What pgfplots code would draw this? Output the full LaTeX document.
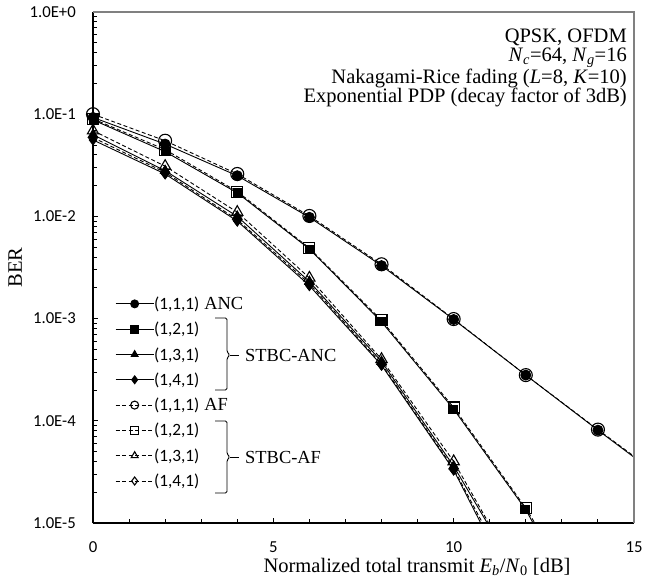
\documentclass[border=0pt]{standalone}
\usepackage{fontspec}
\setmainfont{Liberation Serif}
\newfontfamily\carlito{Carlito}
\usepackage{pgfplots}
\pgfplotsset{compat=1.18}

\newcommand\sfsize{\carlito\fontsize{17.3}{19}\selectfont}
\newcommand\ticksize{\carlito\fontsize{16.8}{18}\selectfont}
\newcommand\rmsize{\rmfamily\fontsize{18.5}{18.7}\selectfont}
\newcommand\rmbig{\rmfamily\fontsize{20.6}{18.7}\selectfont}
\newcommand\sub[1]{\textsubscript{\textit{#1}}}

\pgfplotsset{
  anc/.style={black, line width=0.9bp, mark options={solid, fill=black}},
  af/.style={black, line width=0.9bp, dash pattern=on 4bp off 2.5bp,
    mark options={solid, line width=1.1bp}},
}

\begin{document}
\begin{tikzpicture}
\begin{axis}[
  scale only axis, width=541bp, height=511bp,
  at={(0,0)}, anchor=south west,
  ymode=log, xmin=0, xmax=15, ymin=1e-5, ymax=1,
  axis lines=left, axis line style={-, line width=1.8bp, black},
  clip mode=individual,
  xtick={0,5,10,15}, xticklabels={0,5,10,15}, minor x tick num=4,
  ytick={1e-5,1e-4,1e-3,1e-2,1e-1,1},
  yticklabels={1.0E-5,1.0E-4,1.0E-3,1.0E-2,1.0E-1,1.0E+0},
  tick align=inside, major tick length=5bp, minor tick length=4bp,
  tick style={black, line width=0.9bp},
  yticklabel style={font=\ticksize, anchor=east, inner sep=0pt, xshift=-17bp},
  xticklabel style={font=\ticksize, anchor=center, inner sep=0pt, yshift=-24bp},
  xlabel={Normalized total transmit \textit{E}\sub{b}/\textit{N}\textsubscript{0} [dB]},
  ylabel={BER},
  label style={font=\rmbig},
  xlabel style={at={(axis description cs:0.599,-0.086)}, anchor=center},
  ylabel style={at={(axis description cs:-0.144,0.5)}, anchor=center},
  legend style={at={(axis description cs:0.0407,0.443)}, anchor=north west,
    draw=none, fill=none, font=\sfsize, inner sep=0pt, row sep=11.2bp,
    nodes={inner sep=0pt},
    /tikz/every even column/.append style={column sep=6bp}},
  legend cell align=left,
  legend image code/.code={\draw[#1, mark indices={2}, mark size=4bp]
    plot coordinates {(0bp,0bp) (19bp,0bp) (38bp,0bp)};},
]
% STBC-ANC / ANC
\addplot[anc, mark=*, mark size=5bp, mark indices={1,2,3,4,5,6,7,8}] coordinates {
(0,0.093)(2,0.051)(4,0.025)(6,0.0098)(8,0.0033)(10,0.00098)(12,0.00028)(14,0.000081)(15,0.000044)};
\addlegendentry{(1,1,1)\hspace{5bp}{\rmsize ANC}}
\addplot[anc, mark=square*, mark size=4bp, mark indices={1,2,3,4,5,6,7}] coordinates {
(0,0.088)(2,0.043)(4,0.017)(6,0.0048)(8,0.00093)(10,0.00013)(12,0.0000135)(12.2,0.00001)};
\addlegendentry{(1,2,1)}
\addplot[anc, mark=triangle*, mark size=5.5bp, mark indices={1,2,3,4,5,6}] coordinates {
(0,0.063)(2,0.028)(4,0.0100)(6,0.0023)(8,0.00038)(10,0.000036)(10.93,0.00001)};
\addlegendentry{(1,3,1)}
\addplot[anc, mark=diamond*, mark size=5bp, mark indices={1,2,3,4,5,6}] coordinates {
(0,0.056)(2,0.026)(4,0.0090)(6,0.0021)(8,0.00035)(10,0.000033)(10.75,0.00001)};
\addlegendentry{(1,4,1)}
% STBC-AF / AF
\addplot[af, mark=o, mark size=6.5bp, mark indices={1,2,3,4,5,6,7,8}] coordinates {
(0,0.100)(2,0.055)(4,0.026)(6,0.0101)(8,0.0034)(10,0.00099)(12,0.00028)(14,0.000082)(15,0.000045)};
\addlegendentry{(1,1,1)\hspace{5bp}{\rmsize AF}}
\addplot[af, mark=square, mark size=5.5bp, mark indices={1,2,3,4,5,6,7}] coordinates {
(0,0.090)(2,0.045)(4,0.0175)(6,0.0049)(8,0.00096)(10,0.000135)(12,0.000014)(12.25,0.00001)};
\addlegendentry{(1,2,1)}
\addplot[af, mark=triangle, mark size=6.5bp, mark indices={1,2,3,4,5,6}] coordinates {
(0,0.069)(2,0.031)(4,0.011)(6,0.0025)(8,0.00040)(10,0.000040)(10.97,0.00001)};
\addlegendentry{(1,3,1)}
\addplot[af, mark=diamond, mark size=6bp, mark indices={1,2,3,4,5,6}] coordinates {
(0,0.059)(2,0.027)(4,0.0093)(6,0.0022)(8,0.00036)(10,0.000034)(10.8,0.00001)};
\addlegendentry{(1,4,1)}
\draw[gray, line width=1.2bp] (rel axis cs:0,1) -- (rel axis cs:1,1) -- (rel axis cs:1,0);
\end{axis}
% group braces
\draw[line width=0.9bp, rounded corners=1.5bp] (122bp,205bp) -- (134bp,205bp) -- (134bp,171bp) -- (137bp,168bp) -- (134bp,165bp) -- (134bp,133bp) -- (122bp,133bp);
\draw[line width=0.9bp] (137bp,168bp) -- (146bp,168bp);
\node[anchor=west, font=\rmsize, inner sep=0pt] at (152bp,168bp) {STBC-ANC};
\draw[line width=0.9bp, rounded corners=1.5bp] (122bp,102bp) -- (134bp,102bp) -- (134bp,69bp) -- (137bp,66bp) -- (134bp,63bp) -- (134bp,30bp) -- (122bp,30bp);
\draw[line width=0.9bp] (137bp,66bp) -- (146bp,66bp);
\node[anchor=west, font=\rmsize, inner sep=0pt] at (152bp,66bp) {STBC-AF};
% conditions
\node[anchor=north east, align=right, font=\rmbig, inner sep=0pt] at (534bp,494bp)
  {QPSK, OFDM\\ \textit{N}\sub{c}=64, \textit{N}\sub{g}=16\\
   Nakagami-Rice fading (\textit{L}=8, \textit{K}=10)\\
   Exponential PDP (decay factor of 3dB)};
\pgfresetboundingbox
\path[use as bounding box] (-93bp,-57bp) rectangle (562bp,523bp);
\end{tikzpicture}
\end{document}
